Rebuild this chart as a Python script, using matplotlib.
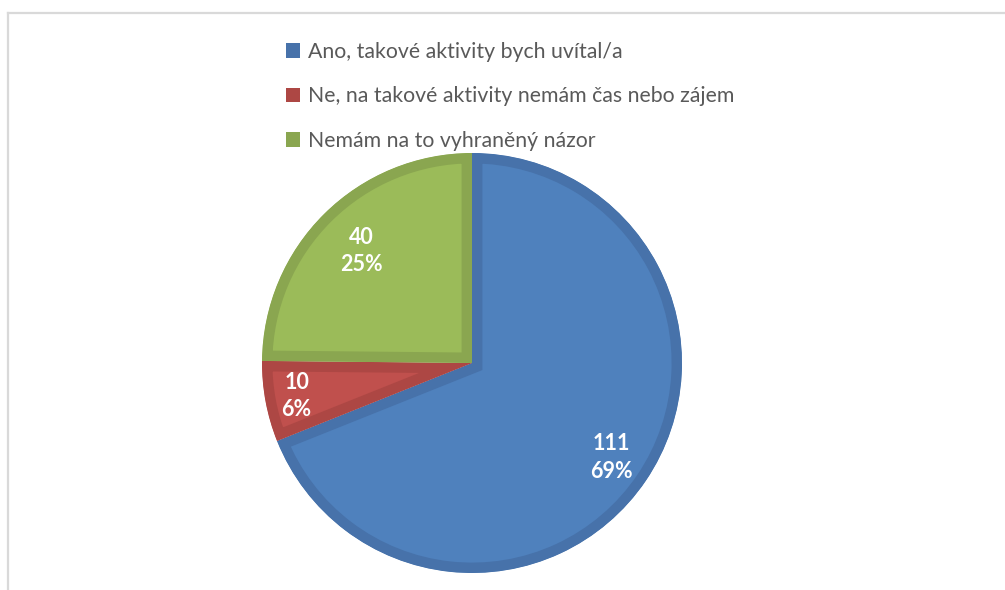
import numpy as np
import matplotlib
matplotlib.use("Agg")
import matplotlib.pyplot as plt
from matplotlib.patches import Patch
from matplotlib.lines import Line2D

labels = ["Ano, takové aktivity bych uvítal/a",
          "Ne, na takové aktivity nemám čas nebo zájem",
          "Nemám na to vyhraněný názor"]
counts = [111, 10, 40]
fills = ["#4F81BD", "#C0504D", "#9BBB59"]
edges = ["#4772AA", "#AD4744", "#8AA650"]
label_r = [0.80, 0.85, 0.75]

plt.rcParams['font.family'] = ['Lato', 'DejaVu Sans']

W, H = 1005, 590
fig = plt.figure(figsize=(W / 100, H / 100), dpi=100)

# frame (top and left only visible)
fig.add_artist(Line2D([7.5 / W, 7.5 / W], [0, 1 - 12.5 / H], transform=fig.transFigure,
                      color="#D9D9D9", lw=1.6))
fig.add_artist(Line2D([7.5 / W, 1], [1 - 12.5 / H, 1 - 12.5 / H], transform=fig.transFigure,
                      color="#D9D9D9", lw=1.6))

cx, cy, r = 472, 363, 210
ax = fig.add_axes([(cx - r) / W, (H - cy - r) / H, 2 * r / W, 2 * r / H])
wedges, _ = ax.pie(counts, colors=fills, startangle=90, counterclock=False,
                   radius=1, wedgeprops=dict(linewidth=15, joinstyle="miter"))
for w, ec in zip(wedges, edges):
    w.set_edgecolor(ec)
    w.set_clip_path(w.get_path(), w.get_transform())
    w.set_clip_on(True)

total = sum(counts)
for w, n, lr in zip(wedges, counts, label_r):
    ang = np.deg2rad((w.theta1 + w.theta2) / 2)
    ax.text(lr * np.cos(ang), lr * np.sin(ang), f"{n}\n{n / total:.0%}",
            ha="center", va="center", color="white", fontsize=15.5,
            fontweight="bold", linespacing=1.4)
ax.set_xlim(-1, 1)
ax.set_ylim(-1, 1)
ax.set_aspect("equal")
ax.axis("off")

handles = [Patch(facecolor=c, edgecolor="none") for c in edges]
fig.legend(handles, labels, loc="upper left", bbox_to_anchor=(286 / W, 1 - 42 / H),
           frameon=False, fontsize=15.3, labelcolor="#595959",
           handlelength=0.65, handleheight=0.65, handletextpad=0.4,
           labelspacing=1.15, borderpad=0, borderaxespad=0)

fig.savefig("out.png", dpi=100)
